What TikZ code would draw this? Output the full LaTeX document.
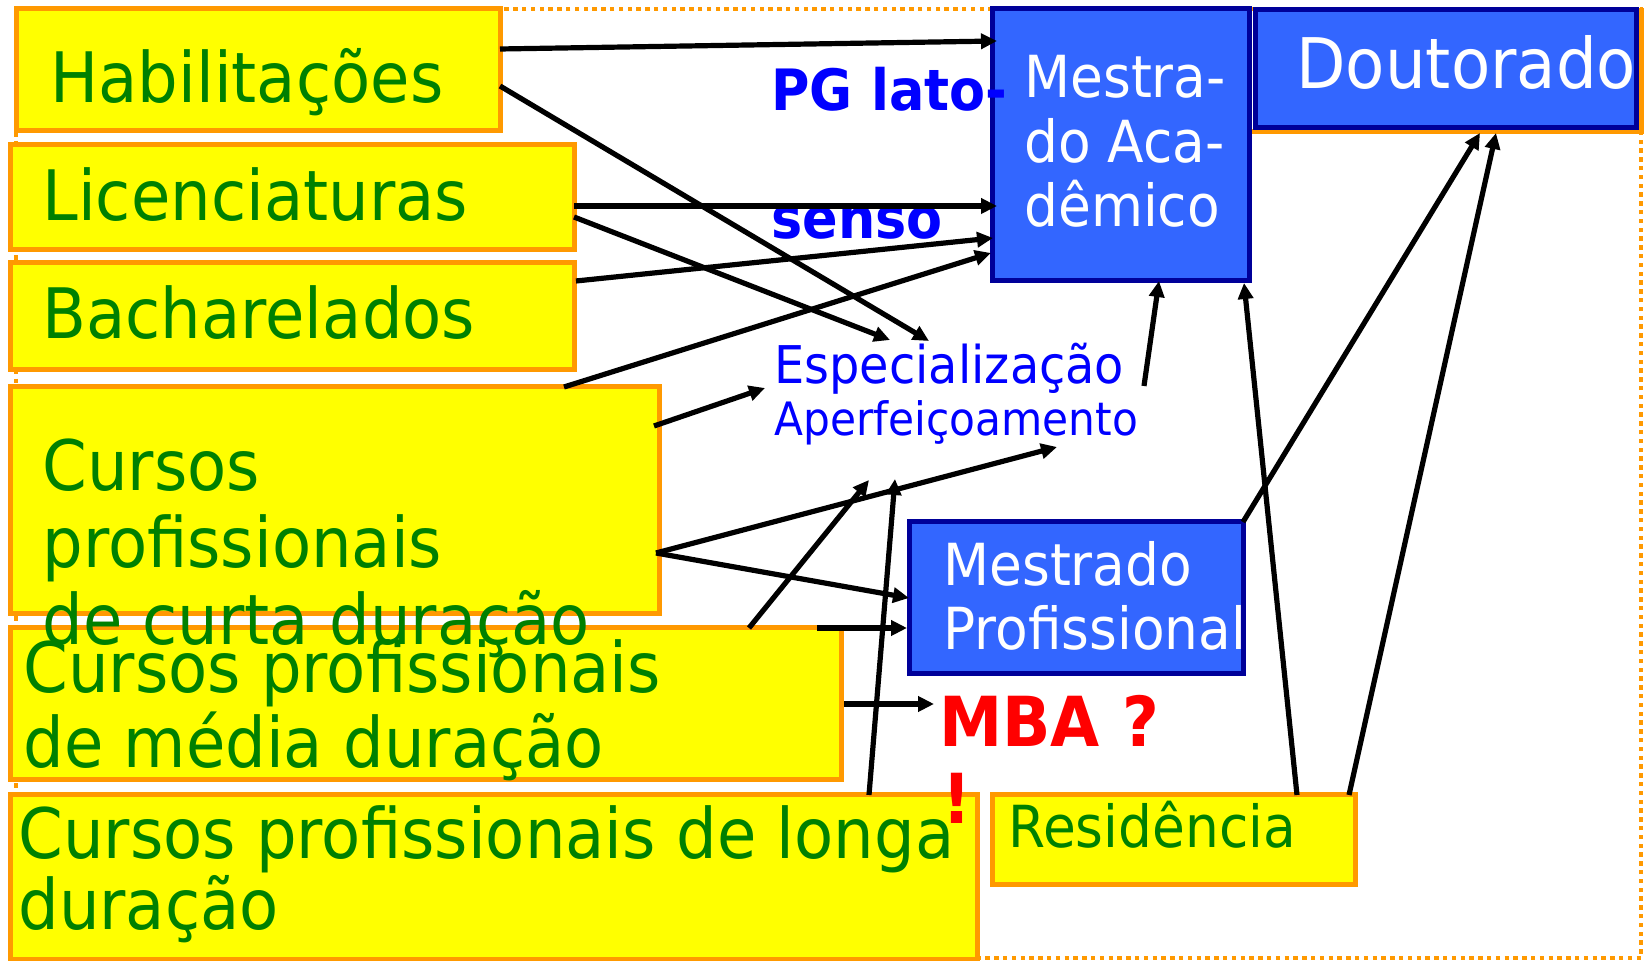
\documentclass[tikz,border=0pt]{standalone}
\usepackage{fontspec}
\setmainfont{DejaVu Sans}[FakeStretch=0.92]
\usetikzlibrary{fit,arrows.meta}
\definecolor{ybg}{HTML}{FFFF00}
\definecolor{obd}{HTML}{FF9900}
\definecolor{gtx}{HTML}{008000}
\definecolor{bfill}{HTML}{3366FF}
\definecolor{bbd}{HTML}{000099}
\definecolor{btx}{HTML}{0000FF}
\definecolor{rtx}{HTML}{FF0000}
\begin{document}
\begin{tikzpicture}[x=0.5pt,y=-0.5pt,
  ybox/.style={draw=obd, fill=ybg, line width=2.5pt, inner sep=0pt},
  bbox/.style={draw=bbd, fill=bfill, line width=2.5pt, inner sep=0pt},
  gtext/.style={anchor=base west, text=gtx, inner sep=0pt, font=\fontsize{34.8}{40}\selectfont},
  wtext/.style={anchor=base west, text=white, inner sep=0pt, font=\fontsize{29}{34}\selectfont},
  btext/.style={anchor=base west, text=btx, inner sep=0pt},
  arr/.style={-{Triangle[length=8pt,width=7.5pt]}, line width=2.6pt, black}]
\useasboundingbox (0,0) rectangle (1646,961);
\draw[obd, line width=2.2pt, dash pattern=on 2.2pt off 2.2pt] (16,9) rectangle (1641,958);
% boxes
\node[ybox, fit={(16,9)(500,131)}] (hab) {};
\node[ybox, fit={(10,145)(574,250)}] (lic) {};
\node[ybox, fit={(10,263)(574,370)}] (bach) {};
\node[ybox, fit={(10,387)(659,614)}] (curta) {};
\node[ybox, fit={(10,628)(841,780)}] (media) {};
\node[ybox, fit={(10,795)(977,960)}] (longa) {};
\node[ybox, fit={(992,795)(1355,885)}] (resid) {};
\node[bbox, fit={(992,9)(1249,281)}] (mac) {};
\draw[obd, line width=2.5pt] (1641,8) -- (1641,132) -- (1252,132);
\node[bbox, fit={(1255,10)(1636,128)}] (dout) {};
\node[bbox, fit={(909,522)(1243,674)}] (mprof) {};
% texts
\node[gtext] (t-hab) at (50,103) {Habilitações};
\node[gtext] (t-lic) at (42,221) {Licenciaturas};
\node[gtext] (t-bach) at (42,339) {Bacharelados};
\node[gtext] (t-c1) at (42,491) {Cursos};
\node[gtext] (t-c2) at (42,568) {profissionais};
\node[gtext] (t-c3) at (42,645) {de curta duração};
\node[gtext] (t-m1) at (23,693) {Cursos profissionais};
\node[gtext] (t-m2) at (23,768) {de média duração};
\node[gtext] (t-l1) at (18,859) {Cursos profissionais de longa};
\node[gtext] (t-l2) at (18,930) {duração};
\node[gtext, font=\fontsize{29}{33}\selectfont] (t-res) at (1008,848) {Residência};
\node[wtext] (t-ma1) at (1024,98) {Mestra-};
\node[wtext] (t-ma2) at (1024,163) {do Aca-};
\node[wtext] (t-ma3) at (1024,227) {dêmico};
\node[wtext, font=\fontsize{34.9}{40}\selectfont] (t-dout) at (1296,89) {Doutorado};
\node[wtext] (t-mp1) at (943,586) {Mestrado};
\node[wtext] (t-mp2) at (943,650) {Profissional};
\node[btext, font=\fontsize{28.5}{32}\selectfont\bfseries] (t-pg1) at (771,111) {PG lato-};
\node[btext, font=\fontsize{28.5}{32}\selectfont\bfseries] (t-pg2) at (771,239) {senso};
\node[btext, font=\fontsize{26}{30}\selectfont] (t-esp) at (774,384) {Especialização};
\node[btext, font=\fontsize{23}{27}\selectfont] (t-ape) at (774,436) {Aperfeiçoamento};
\node[anchor=base west, text=rtx, inner sep=0pt, font=\fontsize{34.5}{40}\selectfont\bfseries] (t-mba1) at (939,747) {MBA ?};
\node[anchor=base west, text=rtx, inner sep=0pt, font=\fontsize{34.5}{40}\selectfont\bfseries] (t-mba2) at (942,824) {!};
% arrow end points
\coordinate (a0) at (500,49);  \coordinate (a1) at (997,41);
\coordinate (b0) at (500,86);  \coordinate (b1) at (929,341);
\coordinate (c0) at (574,206); \coordinate (c1) at (997,206);
\coordinate (d0) at (574,217); \coordinate (d1) at (890,340);
\coordinate (e0) at (576,281); \coordinate (e1) at (993,238);
\coordinate (f0) at (564,387); \coordinate (f1) at (991,253);
\coordinate (g0) at (654,426); \coordinate (g1) at (765,388);
\coordinate (h0) at (656,553); \coordinate (h1) at (1057,447);
\coordinate (i1) at (909,598);
\coordinate (j0) at (749,628); \coordinate (j1) at (869,480);
\coordinate (k0) at (817,628); \coordinate (k1) at (907,628);
\coordinate (l0) at (844,704); \coordinate (l1) at (934,704);
\coordinate (m0) at (869,795); \coordinate (m1) at (895,479);
\coordinate (n0) at (1144,386); \coordinate (n1) at (1159,281);
\coordinate (o0) at (1297,795); \coordinate (o1) at (1244,283);
\coordinate (p0) at (1243,522); \coordinate (p1) at (1480,133);
\coordinate (q0) at (1349,795); \coordinate (q1) at (1496,133);
% arrows
\draw[arr] (a0) -- (a1);
\draw[arr] (b0) -- (b1);
\draw[arr] (c0) -- (c1);
\draw[arr] (d0) -- (d1);
\draw[arr] (e0) -- (e1);
\draw[arr] (f0) -- (f1);
\draw[arr] (g0) -- (g1);
\draw[arr] (h0) -- (h1);
\draw[arr] (h0) -- (i1);
\draw[arr] (j0) -- (j1);
\draw[arr] (k0) -- (k1);
\draw[arr] (l0) -- (l1);
\draw[arr] (m0) -- (m1);
\draw[arr] (n0) -- (n1);
\draw[arr] (o0) -- (o1);
\draw[arr] (p0) -- (p1);
\draw[arr] (q0) -- (q1);
\end{tikzpicture}
\end{document}
